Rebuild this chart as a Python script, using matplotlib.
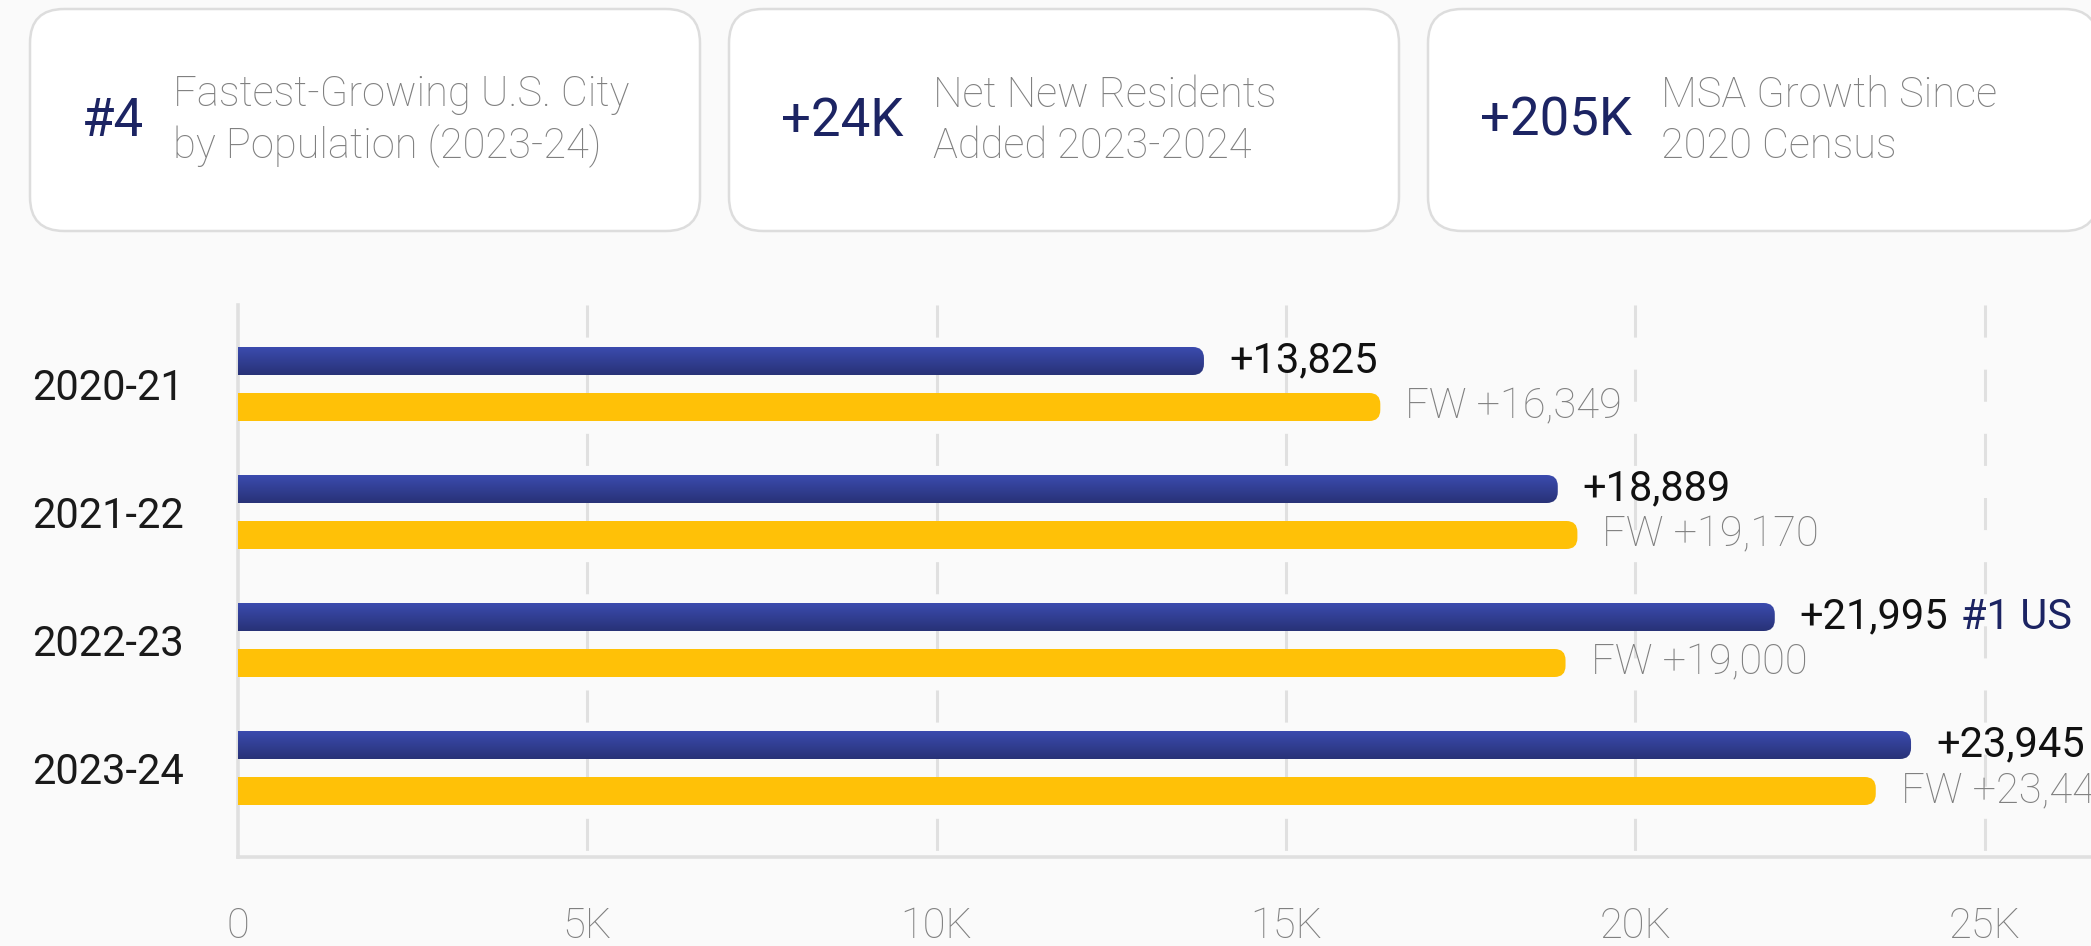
import numpy as np
import matplotlib.pyplot as plt
from matplotlib.patches import FancyBboxPatch
from matplotlib.colors import LinearSegmentedColormap

plt.rcParams["font.family"] = ["Roboto", "DejaVu Sans"]

# data
periods = ["2020-21", "2021-22", "2022-23", "2023-24"]
msa_growth = [13825, 18889, 21995, 23945]
fw_growth = [16349, 19170, 19000, 23440]
rank_notes = ["", "", "#1 US", ""]
x_ticks = [0, 5000, 10000, 15000, 20000, 25000]
x_tick_labels = ["0", "5K", "10K", "15K", "20K", "25K"]

card_values = ["#4", "+24K", "+205K"]
card_texts = [
    "Fastest-Growing U.S. City\nby Population (2023-24)",
    "Net New Residents\nAdded 2023-2024",
    "MSA Growth Since\n2020 Census",
]

BG = "#fafafa"
NAVY = "#1c2463"
GOLD = "#ffc107"
GRAY = "#808080"
LINE = "#e0e0e0"
blue_cmap = LinearSegmentedColormap.from_list("blue", ["#3b4bae", "#283277"])

W, H = 2091, 946
fig = plt.figure(figsize=(W / 100, H / 100), dpi=100, facecolor=BG)

# ---- KPI cards (pixel coordinates) ----
top_ax = fig.add_axes([0, 0, 1, 1])
top_ax.set_xlim(0, W)
top_ax.set_ylim(H, 0)
top_ax.axis("off")
top_ax.patch.set_alpha(0)

card_w, card_h, card_gap = 670, 222, 29
for i, (val, txt) in enumerate(zip(card_values, card_texts)):
    x0 = 30 + i * (card_w + card_gap)
    top_ax.add_patch(
        FancyBboxPatch(
            (x0, 9), card_w, card_h,
            boxstyle="round,pad=0,rounding_size=34",
            facecolor="white", edgecolor="#dddddd", linewidth=1.8,
        )
    )
    num = top_ax.text(x0 + 52, 121, val, fontsize=38, color=NAVY,
                      va="center", ha="left")
    top_ax.annotate(txt, xy=(1, 0.5), xycoords=num, xytext=(21, 0),
                    textcoords="offset points", va="center", ha="left",
                    fontsize=30, color=GRAY, fontweight="light",
                    linespacing=1.3)

# ---- bar chart ----
left, top, bottom = 238, 305, 857
group_px = 128
px_per_unit = 0.06987
ax = fig.add_axes([left / W, 1 - bottom / H, 1 - left / W, (bottom - top) / H])
ax.set_facecolor(BG)
xmax = (W - left) / px_per_unit
ylo, yhi = 3 + (bottom - 768) / group_px, -(384 - top) / group_px

off = 23 / group_px
bh = 28 / group_px
r_px = 11
r_x = r_px / px_per_unit
asp = px_per_unit / group_px

ax.vlines(x_ticks[1:], yhi, ylo, colors=LINE, linewidth=2.2,
          linestyles=(0, (10.5, 10.5)), zorder=1)

grad = np.linspace(0, 1, 64).reshape(-1, 1)
for i, (m, f, note) in enumerate(zip(msa_growth, fw_growth, rank_notes)):
    yb = i - off
    yg = i + off
    # blue bar with gradient + rounded end
    shape = FancyBboxPatch(
        (-r_x, yb - bh / 2), m + r_x, bh,
        boxstyle=f"round,pad=0,rounding_size={r_x}",
        mutation_aspect=asp, facecolor="none", edgecolor="none",
    )
    ax.add_patch(shape)
    im = ax.imshow(grad, cmap=blue_cmap, aspect="auto", origin="upper",
                   extent=(0, m, yb + bh / 2, yb - bh / 2), zorder=3,
                   interpolation="bilinear")
    im.set_clip_path(shape)
    # gold bar
    ax.add_patch(
        FancyBboxPatch(
            (-r_x, yg - bh / 2), f + r_x, bh,
            boxstyle=f"round,pad=0,rounding_size={r_x}",
            mutation_aspect=asp, facecolor=GOLD, edgecolor="none", zorder=3,
        )
    )
    t = ax.annotate(f"+{m:,}", xy=(m, yb), xytext=(18, 0),
                    textcoords="offset points", va="center", ha="left",
                    fontsize=30, color="#111111", annotation_clip=False)
    if note:
        ax.annotate(note, xy=(1, 0.5), xycoords=t, xytext=(9, 0),
                    textcoords="offset points", va="center", ha="left",
                    fontsize=30, color=NAVY)
    ax.annotate(f"FW +{f:,}", xy=(f, yg), xytext=(18, 0),
                textcoords="offset points", va="center", ha="left",
                fontsize=30, color=GRAY, fontweight="light",
                annotation_clip=False)

ax.set_xlim(0, xmax)
ax.set_ylim(ylo, yhi)

ax.set_xticks(x_ticks, x_tick_labels)
ax.set_yticks(range(len(periods)), periods)
ax.tick_params(axis="x", length=0, pad=35, labelsize=30, labelcolor=GRAY)
ax.tick_params(axis="y", length=0, pad=39, labelsize=30, labelcolor="#1a1a1a")
for lbl in ax.get_xticklabels():
    lbl.set_fontweight("light")

for s in ["top", "right"]:
    ax.spines[s].set_visible(False)
for s in ["left", "bottom"]:
    ax.spines[s].set_color(LINE)
    ax.spines[s].set_linewidth(2.6)

fig.savefig("out.png", dpi=100, facecolor=BG)
